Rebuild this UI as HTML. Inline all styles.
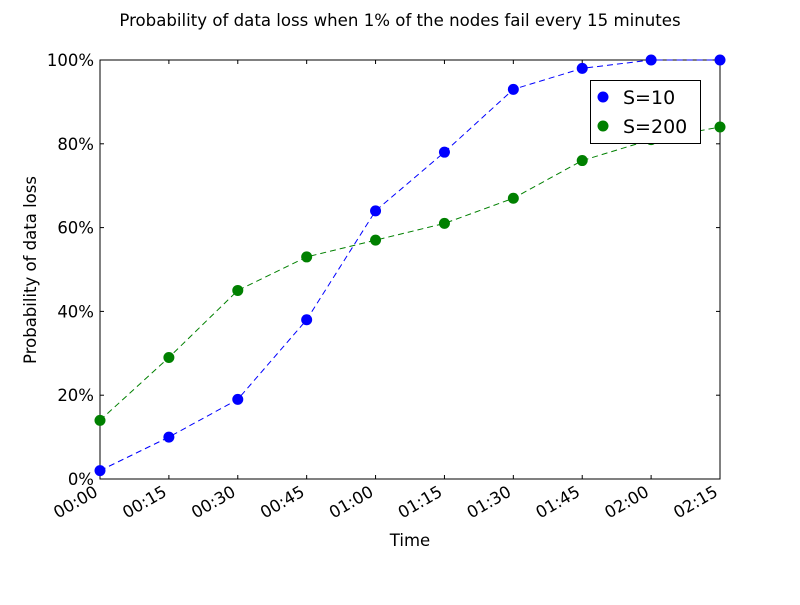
<!DOCTYPE html>
<html><head><meta charset="utf-8"><style>
body{margin:0;background:#fff;}
svg text{font-family:"DejaVu Sans","Liberation Sans",sans-serif;fill:#000;}
</style></head><body>
<svg id="chart" width="800" height="600" xmlns="http://www.w3.org/2000/svg">
<rect width="800" height="600" fill="#fff"/>
<text x="400" y="26" text-anchor="middle" font-size="16.6">Probability of data loss when 1% of the nodes fail every 15 minutes</text>
<g id="plot"></g>
<text x="410" y="546" text-anchor="middle" font-size="16.5">Time</text>
<text transform="translate(36,270) rotate(-90)" text-anchor="middle" font-size="16.5">Probability of data loss</text>
</svg>
<script>
const categories=["00:00","00:15","00:30","00:45","01:00","01:15","01:30","01:45","02:00","02:15"];
const s10=[2,10,19,38,64,78,93,98,100,100];
const s200=[14,29,45,53,57,61,67,76,81,84];
const yTicks=[0,20,40,60,80,100];
const L=100,R=720,T=60,B=479;
const NS="http://www.w3.org/2000/svg";
const g=document.getElementById('plot');
function x(i){return L+(R-L)*i/(categories.length-1);}
function y(v){return B-(B-T)*v/100;}
function mk(t,a,p){const e=document.createElementNS(NS,t);for(const k in a)e.setAttribute(k,a[k]);(p||g).appendChild(e);return e;}
const fr=mk('rect',{x:L,y:T,width:R-L,height:B-T,fill:'none',stroke:'#000','stroke-width':1});


yTicks.forEach(v=>{
  mk('line',{x1:L,x2:L+4,y1:y(v),y2:y(v),stroke:'#000'});
  mk('line',{x1:R,x2:R-4,y1:y(v),y2:y(v),stroke:'#000'});
  const t=mk('text',{x:L-6,y:y(v)+6,'text-anchor':'end','font-size':16.5});t.textContent=v+'%';
  
  
});
categories.forEach((c,i)=>{
  mk('line',{x1:x(i),x2:x(i),y1:B,y2:B-4,stroke:'#000'});
  mk('line',{x1:x(i),x2:x(i),y1:T,y2:T+4,stroke:'#000'});
  const t=mk('text',{x:0,y:0,'text-anchor':'end','font-size':16.5,transform:`translate(${x(i)-1},${B+16}) rotate(-30)`});t.textContent=c;
  
  
});
function series(d,col,name){
  const sg=mk('g',{});
  
  
  const ln=mk('polyline',{points:d.map((v,i)=>x(i)+','+y(v)).join(' '),fill:'none',stroke:col,'stroke-width':1,'stroke-dasharray':'6,4'},sg);
  
  
  d.forEach((v,i)=>{const c=mk('circle',{cx:x(i),cy:y(v),r:5.5,fill:col},sg);
    
    });
}
series(s10,'#0000ff','series-s10');
series(s200,'#008000','series-s200');
const lg=mk('g',{});


mk('rect',{x:590.5,y:80.5,width:110,height:63,fill:'#fff',stroke:'#000'},lg);
[['S=10','#0000ff',97],['S=200','#008000',126]].forEach(([n,c,yy])=>{
  const e=mk('circle',{cx:603,cy:yy,r:5.5,fill:c},lg);
  
  
  const t=mk('text',{x:623,y:yy+7,'font-size':19},lg);t.textContent=n;
  
  
});
</script>
</body></html>
